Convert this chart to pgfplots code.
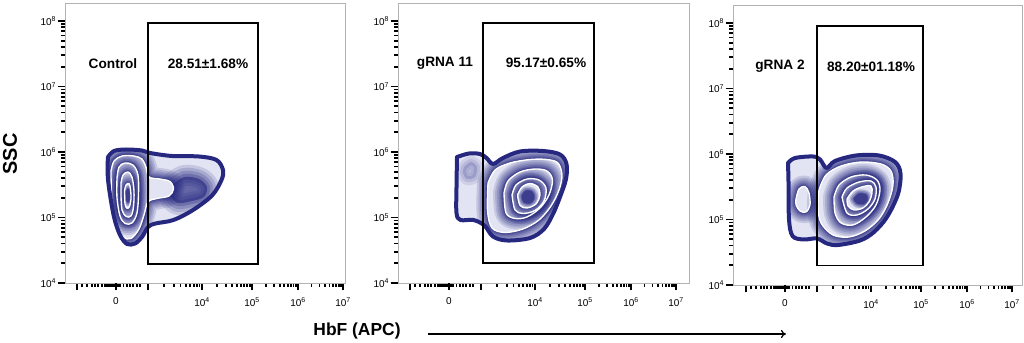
\documentclass[border=0pt]{standalone}
\usepackage{pgfplots}
\pgfplotsset{compat=1.18}
\usepackage{pgfplotstable}
\usepackage{fontspec}
\setmainfont{Liberation Sans}
\usetikzlibrary{arrows.meta}
\definecolor{navy}{RGB}{38,40,128}
\definecolor{lite}{RGB}{226,227,243}

\pgfplotsset{
 flowax/.style={
  x=1bp, y=1bp, ymin=0, ymax=280, xmin=-137,
  axis on top,
  axis line style={gray!60, line width=0.8bp},
  tick pos=left, tick align=outside,
  major tick length=7.5bp, minor tick length=4bp,
  xtick style={black, line width=1.8bp},
  ytick style={black, line width=1.8bp},
  minor tick style={line width=1bp},
  ytick={0,65.5,131,196.5,262},
  yticklabels={10\textsuperscript{4},10\textsuperscript{5},10\textsuperscript{6},10\textsuperscript{7},10\textsuperscript{8}},
  minor ytick={19.7,31.2,39.4,45.8,51.0,55.3,59.1,62.5,85.2,96.7,104.9,111.3,116.5,120.8,124.6,128.0,150.7,162.2,170.4,176.8,182.0,186.3,190.1,193.5,216.2,227.7,235.9,242.3,247.5,251.8,255.6,259.0},
  xtick={-125,-54,0,50,96,141},
  xticklabels={,,10\textsuperscript{4},10\textsuperscript{5},10\textsuperscript{6},10\textsuperscript{7}},
  extra x ticks={-86}, extra x tick labels={0},
  minor xtick={-120,-115,-110,-107,-104,-100,-97,-95.5,-94,-92,-90.5,-89,-88,-84,-82,-78.5,-75,-72,-69,-65,-62,-37.7,-28.2,-21.5,-16.3,-12,-8.4,-5.2,-2.5,15.1,23.9,30.1,34.9,38.9,42.3,45.2,47.7,63.8,71.9,77.7,82.2,85.8,88.9,91.5,93.9,109.5,117.5,123.1,127.5,131,134,136.6,138.9},
  tick label style={font=\fontsize{10}{11}\selectfont},
  xticklabel style={yshift=-4bp},
  yticklabel style={xshift=2bp},
 },
 cont/.style={smooth, tension=0.55, line join=round, line cap=round, forget plot},
}
\newcommand{\cband}[1]{%
 \addplot[cont, draw=navy, draw opacity=0.15, line width=22bp] table {#1};
 \addplot[cont, draw=navy, draw opacity=0.16, line width=18bp] table {#1};
 \addplot[cont, draw=navy, draw opacity=0.17, line width=14.5bp] table {#1};
 \addplot[cont, draw=navy, draw opacity=0.19, line width=11bp] table {#1};
 \addplot[cont, draw=navy, draw opacity=0.21, line width=8bp] table {#1};
 \addplot[cont, draw=navy, draw opacity=0.24, line width=5.5bp] table {#1};
 \addplot[cont, draw=navy, draw opacity=0.3, line width=3.5bp] table {#1};
 \addplot[cont, draw=navy, draw opacity=0.4, line width=2bp] table {#1};
 \addplot[cont, fill=lite, draw=none] table {#1};}
\newcommand{\cpeak}[1]{%
 \addplot[cont, draw=navy, draw opacity=0.25, line width=9bp] table {#1};
 \addplot[cont, draw=navy, draw opacity=0.3, line width=6bp] table {#1};
 \addplot[cont, draw=navy, draw opacity=0.4, line width=3bp] table {#1};
 \addplot[cont, fill=navy!90, draw=navy!90, line width=1bp] table {#1};}
\newcommand{\cblob}[1]{%
 \addplot[cont, draw=navy, draw opacity=0.15, line width=24bp] table {#1};
 \addplot[cont, draw=navy, draw opacity=0.18, line width=18bp] table {#1};
 \addplot[cont, draw=navy, draw opacity=0.22, line width=12bp] table {#1};
 \addplot[cont, draw=navy, draw opacity=0.28, line width=6bp] table {#1};
 \addplot[cont, fill=navy, fill opacity=0.62, draw=none] table {#1};}
\newcommand{\cfaint}[1]{%
 \addplot[cont, draw=navy, draw opacity=0.1, line width=12bp] table {#1};
 \addplot[cont, draw=navy, draw opacity=0.12, line width=6bp] table {#1};
 \addplot[cont, fill=navy, fill opacity=0.2, draw=none] table {#1};}
\newcommand{\cwline}[1]{\addplot[cont, draw=white, line width=1.35bp] table {#1};}
\newcommand{\couter}[1]{\addplot[cont, draw=navy, line width=4bp] table {#1};}
\newcommand{\cbase}[1]{\addplot[cont, fill=lite, draw=none] table {#1};}
\newcommand{\cmask}[1]{\addplot[cont, fill=white, draw=none, even odd rule, unbounded coords=jump] table {#1};}

\begin{document}
% ---------------- Control ----------------
\pgfplotstableread{
x y
-94 126
-88 132
-76 133.5
-60 132.5
-52 130
-30 127
-3 126.5
14.5 123
21 113
19.5 103
10 87.5
-9 73
-28.5 63
-46.5 59.5
-54 56
-60 46
-67 39.5
-75 39
-82 48
-88 66
-93 95
-94.5 112
-94 126
}\aPzero
\pgfplotstableread{
x y
-400 -400
400 -400
400 600
-400 600
-400 -400
nan nan
-94 126
-88 132
-76 133.5
-60 132.5
-52 130
-30 127
-3 126.5
14.5 123
21 113
19.5 103
10 87.5
-9 73
-28.5 63
-46.5 59.5
-54 56
-60 46
-67 39.5
-75 39
-82 48
-88 66
-93 95
-94.5 112
-94 126
}\aMask
\pgfplotstableread{
x y
-30 98
-18 106
-3 104
5 96
2 86
-10 82
-24 80
-31 87
-30 98
}\aBlob
\pgfplotstableread{
x y
-91 112
-88 122
-80 127
-68 127
-60 124
-56 116
-53 106
-42 104
-32 101.5
-28.5 94
-33 87
-45 84.5
-54 81
-58 68
-63 54
-71 44.5
-79 46
-85 58
-90 80
-91 112
}\aPone
\pgfplotstableread{
x y
-85 105
-83 116
-77 120
-69 118
-64 108
-63.5 88
-65 70
-70 60
-77 59.5
-82 67
-85 85
-85 105
}\aPtwo
\pgfplotstableread{
x y
-81 100
-79 108
-74 111
-70 106
-68 92
-68.5 76
-71 67
-76 66.5
-80 73
-81 87
-81 100
}\aPthree
\pgfplotstableread{
x y
-77.5 92
-76 98
-73 99.5
-71.5 94
-71 84
-72.5 76.5
-75 74.7
-77 79
-77.5 92
}\aPfour
\pgfplotstableread{
x y
-76 90
-74 94
-72.5 90
-72.5 84
-74 81
-75.5 84
-76 90
}\aPeak
% ---------------- gRNA 11 ----------------
\pgfplotstableread{
x y
-78 126
-66 129.5
-55 129
-48.5 125
-42 119
-32 125
-15 131.5
8 132
25 128.5
31.5 119
31 104
25 86
18 69
9 54
-5 45
-28 42.5
-42 46.5
-50.5 57.5
-61.5 63
-74.5 63
-78.5 70
-78.5 96
-78 126
}\bPzero
\pgfplotstableread{
x y
-400 -400
400 -400
400 600
-400 600
-400 -400
nan nan
-78 126
-66 129.5
-55 129
-48.5 125
-42 119
-32 125
-15 131.5
8 132
25 128.5
31.5 119
31 104
25 86
18 69
9 54
-5 45
-28 42.5
-42 46.5
-50.5 57.5
-61.5 63
-74.5 63
-78.5 70
-78.5 96
-78 126
}\bMask
\pgfplotstableread{
x y
-71 116
-64 121
-58 116
-60 106
-68 104
-72 110
-71 116
}\bBlob
\pgfplotstableread{
x y
-47 100
-40 113
-25 120
-5 123.5
12 123.5
23 120
27 108
24 93
16 77
4 63
-12 54
-30 50.5
-43 55
-47.5 72
-47 100
}\bPone
\pgfplotstableread{
x y
-31 90
-27 102
-15 111
0 114
12 112
17.5 103
14 88
5 75
-8 66
-20 64.5
-29 70
-31 90
}\bPtwo
\pgfplotstableread{
x y
-23 88
-19 98
-8 104
4 103
11 95
9 82
0 72.5
-12 69.5
-20 73
-23 88
}\bPthree
\pgfplotstableread{
x y
-17.5 88
-13 96
-5 99.5
3 96
5 88
1 79
-8 75
-15 77.5
-17.5 88
}\bPfour
\pgfplotstableread{
x y
-13 87
-9 92
-3 91
-1 85
-5 80
-11 81
-13 87
}\bPeak
% ---------------- gRNA 2 ----------------
\pgfplotstableread{
x y
-83 122
-76 127
-58 128.5
-51 125.5
-44.5 117
-36 124
-15 129.5
8 129.5
24 123
29.5 111.5
27 91
16 68
3 53
-11 44.5
-33 40
-44 41.5
-54 46.5
-67.5 45.5
-78.5 49
-82 66
-82.5 103
-83 122
}\cPzero
\pgfplotstableread{
x y
-400 -400
400 -400
400 600
-400 600
-400 -400
nan nan
-83 122
-76 127
-58 128.5
-51 125.5
-44.5 117
-36 124
-15 129.5
8 129.5
24 123
29.5 111.5
27 91
16 68
3 53
-11 44.5
-33 40
-44 41.5
-54 46.5
-67.5 45.5
-78.5 49
-82 66
-82.5 103
-83 122
}\cMask
\pgfplotstableread{
x y
-75 86
-72 96
-66 98.5
-62 92
-61 80
-65 73
-71 74
-75 80
-75 86
}\cPleft
\pgfplotstableread{
x y
-52 95
-45 110
-30 119
-10 123
10 121
20 114
22 100
17 82
8 66
-6 54
-22 48
-38 50
-50 62
-53 78
-52 95
}\cPone
\pgfplotstableread{
x y
-37 88
-32 100
-20 108
-5 110
6 105
9 95
5 80
-5 68
-18 60
-30 62
-36 72
-37 88
}\cPtwo
\pgfplotstableread{
x y
-29 88
-24 97
-12 103
0 104
5 98
4 86
-3 76
-14 70
-24 72
-29 88
}\cPthree
\pgfplotstableread{
x y
-24 86
-18 94
-8 98.5
0 99
1 92
-2 83
-8 77
-17 75
-23 79
-24 86
}\cPfour
\pgfplotstableread{
x y
-17 86
-12 91
-5 90
-4 85
-8 81
-14 82
-17 86
}\cPeak

\begin{tikzpicture}
\useasboundingbox (0,0) rectangle (1024bp,343bp);

% ---- panel 1
\begin{axis}[flowax, xmax=143, at={(65bp,60bp)}, anchor=south west]
\cbase{\aPzero}
\cblob{\aBlob}
\cband{\aPone}
\cband{\aPtwo}
\cband{\aPthree}
\cband{\aPfour}
\cpeak{\aPeak}
\cwline{\aPone}\cwline{\aPtwo}\cwline{\aPthree}\cwline{\aPfour}
\cmask{\aMask}
\couter{\aPzero}
\addplot[black, line width=1.1bp, sharp plot, forget plot] coordinates {(-54,19) (56,19) (56,260) (-54,260)} -- cycle;
\node[font=\bfseries\fontsize{13.7}{15}\selectfont] at (axis cs:-89,219) {Control};
\node[font=\bfseries\fontsize{13.7}{15}\selectfont] at (axis cs:6,219) {28.51±1.68\%};
\end{axis}

% ---- panel 2
\begin{axis}[flowax, xmax=154, at={(398bp,60bp)}, anchor=south west]
\cbase{\bPzero}
\cfaint{\bBlob}
\cband{\bPone}
\cband{\bPtwo}
\cband{\bPthree}
\cband{\bPfour}
\cpeak{\bPeak}
\cwline{\bPone}\cwline{\bPtwo}\cwline{\bPthree}\cwline{\bPfour}
\cmask{\bMask}
\couter{\bPzero}
\addplot[black, line width=1.1bp, sharp plot, forget plot] coordinates {(-52,20) (59,20) (59,260) (-52,260)} -- cycle;
\node[font=\bfseries\fontsize{13.7}{15}\selectfont] at (axis cs:-90,220) {gRNA 11};
\node[font=\bfseries\fontsize{13.7}{15}\selectfont] at (axis cs:11,220) {95.17±0.65\%};
\end{axis}

% ---- panel 3
\begin{axis}[flowax, xmin=-138, xmax=151, at={(733bp,58bp)}, anchor=south west]
\cbase{\cPzero}
\cband{\cPleft}
\cband{\cPone}
\cband{\cPtwo}
\cband{\cPthree}
\cband{\cPfour}
\cpeak{\cPeak}
\cwline{\cPleft}\cwline{\cPone}\cwline{\cPtwo}\cwline{\cPthree}\cwline{\cPfour}
\cmask{\cMask}
\couter{\cPzero}
\addplot[black, line width=1.1bp, sharp plot, forget plot] coordinates {(-54,19.5) (52,19.5) (52,259) (-54,259)} -- cycle;
\node[font=\bfseries\fontsize{13.7}{15}\selectfont] at (axis cs:-91,218.5) {gRNA 2};
\node[font=\bfseries\fontsize{13.7}{15}\selectfont] at (axis cs:0,218.5) {88.20±01.18\%};
\end{axis}

\node[font=\bfseries\fontsize{20}{22}\selectfont, rotate=90] at (10bp,189bp) {SSC};
\node[font=\bfseries\fontsize{17.5}{19}\selectfont] at (357bp,12bp) {HbF (APC)};
\draw[line width=1.2bp, -{To[length=5bp,width=8bp]}] (428bp,9bp) -- (786bp,9bp);
\end{tikzpicture}
\end{document}
